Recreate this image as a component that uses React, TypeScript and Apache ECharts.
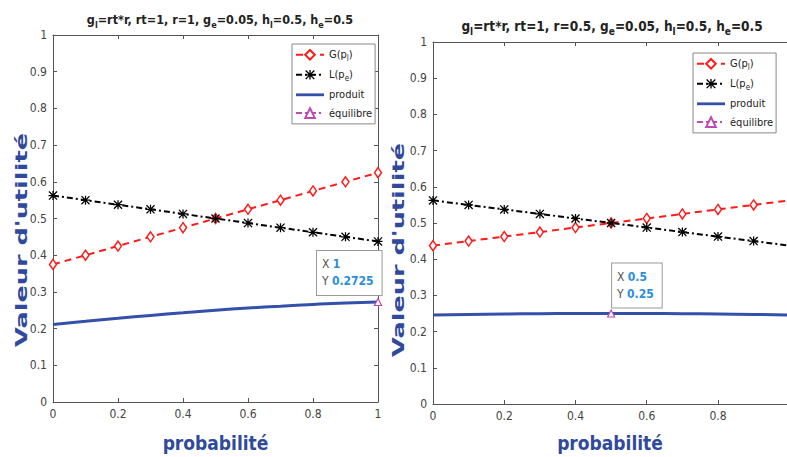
import React, { useEffect, useRef } from "react";
import * as echarts from "echarts";

// ---------- data ----------
const X = [0, 0.1, 0.2, 0.3, 0.4, 0.5, 0.6, 0.7, 0.8, 0.9, 1];
const G_LEFT = [0.375, 0.4, 0.425, 0.45, 0.475, 0.5, 0.525, 0.55, 0.575, 0.6, 0.625];
const L_LEFT = [0.5625, 0.55, 0.5375, 0.525, 0.5125, 0.5, 0.4875, 0.475, 0.4625, 0.45, 0.4375];
const PROD_LEFT = [0.211, 0.22, 0.228, 0.236, 0.243, 0.25, 0.256, 0.261, 0.266, 0.27, 0.2725];
const EQ_LEFT: [number, number] = [1, 0.2725];

const G_RIGHT = [0.4375, 0.45, 0.4625, 0.475, 0.4875, 0.5, 0.5125, 0.525, 0.5375, 0.55, 0.5625];
const L_RIGHT = [0.5625, 0.55, 0.5375, 0.525, 0.5125, 0.5, 0.4875, 0.475, 0.4625, 0.45, 0.4375];
const PROD_RIGHT = [0.246, 0.2475, 0.2486, 0.2494, 0.2498, 0.25, 0.2498, 0.2494, 0.2486, 0.2475, 0.246];
const EQ_RIGHT: [number, number] = [0.5, 0.25];

// right panel is cropped just before x = 1
const RIGHT_X_MAX = 0.9937;

const TITLE_LEFT = "{b|g}{s|l}{b|=rt*r, rt=1, r=1, g}{s|e}{b|=0.05, h}{s|l}{b|=0.5, h}{s|e}{b|=0.5}";
const TITLE_RIGHT = "{b|g}{s|l}{b|=rt*r, rt=1, r=0.5, g}{s|e}{b|=0.05, h}{s|l}{b|=0.5, h}{s|e}{b|=0.5}";
const NAMES = ["G(pl)", "L(pe)", "produit", "équilibre"];
const Y_NAME = "Valeur d'utilité";
const X_NAME = "probabilité";
const TIP_LEFT = "{k|X} {v|1}\n{k|Y} {v|0.2725}";
const TIP_RIGHT = "{k|X} {v|0.5}\n{k|Y} {v|0.25}";

const FONT = "'DejaVu Sans Condensed', 'DejaVu Sans', sans-serif";
const BLUE_NAME = "#2f4a9c";
const AXIS_COLOR = "#555";

const ASTERISK =
  "path://M4.3 0H5.7V10H4.3Z M0 4.3H10V5.7H0Z M1 0L10 9L9 10L0 1Z M9 0L10 1L1 10L0 9Z";
const FLAT = "path://M0 0H30V3H0Z";

const zip = (xs: number[], ys: number[]) => xs.map((x, i) => [x, ys[i]]);

function mkSeries(xi: number, yi: number, g: number[], l: number[], p: number[], eq: [number, number], tip: string, offset: number[], dist: number) {
  return [
    {
      name: NAMES[0], type: "line", xAxisIndex: xi, yAxisIndex: yi,
      data: zip(X, g), symbol: "diamond", symbolSize: [7, 10],
      lineStyle: { color: "#ff1a1a", width: 2, type: [7, 5] },
      itemStyle: { color: "#fff", borderColor: "#ff1a1a", borderWidth: 1.5 },
      z: 3,
    },
    {
      name: NAMES[1], type: "line", xAxisIndex: xi, yAxisIndex: yi,
      data: zip(X, l), symbol: ASTERISK, symbolSize: 9,
      lineStyle: { color: "#000", width: 2, type: [6, 3, 2, 3] },
      itemStyle: { color: "#000" },
      z: 3,
    },
    {
      name: NAMES[2], type: "line", xAxisIndex: xi, yAxisIndex: yi,
      data: zip(X, p), symbol: "none", smooth: true,
      lineStyle: { color: "#3550aa", width: 3 },
      itemStyle: { color: "#3550aa" },
      z: 2,
    },
    {
      name: NAMES[3], type: "line", xAxisIndex: xi, yAxisIndex: yi,
      data: [eq], symbol: "triangle", symbolSize: 7,
      lineStyle: { color: "#c04ab4", width: 2, type: [6, 3, 2, 3] },
      itemStyle: { color: "#fff", borderColor: "#c04ab4", borderWidth: 1.2 },
      z: 4,
      label: {
        show: true,
        position: "top",
        offset,
        distance: dist,
        align: "left",
        formatter: tip,
        backgroundColor: "#fff",
        borderColor: "#999",
        borderWidth: 1,
        padding: [5, 8, 5, 5],
        rich: {
          k: { color: "#555", fontSize: 12, fontFamily: FONT, lineHeight: 17 },
          v: { color: "#2a8ee0", fontSize: 12, fontWeight: "bold", fontFamily: FONT, lineHeight: 17 },
        },
      },
    },
  ];
}

function mkX(gi: number, pos: string, labels: boolean, max: number, name?: string, nameGap?: number) {
  return {
    type: "value", gridIndex: gi, position: pos, min: 0, max, interval: 0.2,
    name, nameLocation: "middle", nameGap,
    nameTextStyle: { color: BLUE_NAME, fontSize: 19, fontWeight: "bold", fontFamily: FONT },
    axisLine: { show: true, onZero: false, lineStyle: { color: AXIS_COLOR, width: 1 } },
    axisTick: { show: true, inside: true, length: 4, lineStyle: { color: AXIS_COLOR } },
    axisLabel: { show: labels, color: "#444", fontSize: 12, fontFamily: FONT, margin: 6, showMaxLabel: max === 1 },
    splitLine: { show: false },
  };
}
function mkY(gi: number, pos: string, labels: boolean) {
  return {
    type: "value", gridIndex: gi, position: pos, min: 0, max: 1, interval: 0.1,
    axisLine: { show: true, onZero: false, lineStyle: { color: AXIS_COLOR, width: 1 } },
    axisTick: { show: true, inside: true, length: 4, lineStyle: { color: AXIS_COLOR } },
    axisLabel: { show: labels, color: "#444", fontSize: 12, fontFamily: FONT, margin: 6 },
    splitLine: { show: false },
  };
}

const legendRich = {
  t: { fontSize: 11, color: "#222", fontFamily: FONT },
  s: { fontSize: 8, color: "#222", fontFamily: FONT, padding: [7, 0, 0, 0] },
};
const legendFmt = (n: string) => {
  if (n === "G(pl)") return "{t|G(p}{s|l}{t|)}";
  if (n === "L(pe)") return "{t|L(p}{s|e}{t|)}";
  return "{t|" + n + "}";
};
function mkLegend(left: number, top: number) {
  return {
    data: NAMES.map((n) => (n === "produit" ? { name: n, icon: FLAT } : { name: n })),
    orient: "vertical", left, top,
    backgroundColor: "#fff", borderColor: "#888", borderWidth: 1,
    padding: [5, 3, 5, 3], itemGap: 7, itemWidth: 28, itemHeight: 12,
    symbolKeepAspect: true,
    formatter: legendFmt,
    textStyle: { rich: legendRich, fontSize: 11, fontFamily: FONT },
  };
}

function titleRich(size: number) {
  return {
    b: { fontSize: size, fontWeight: "bold", color: "#222", fontFamily: FONT },
    s: { fontSize: size - 3.5, fontWeight: "bold", color: "#222", fontFamily: FONT, padding: [10, 0, 0, 0] },
  };
}

function yName(x: number, y: number) {
  return {
    type: "text", x, y, rotation: Math.PI / 2, scaleX: 1.6, scaleY: 1,
    style: { text: Y_NAME, fill: BLUE_NAME, font: "bold 16px 'DejaVu Sans', sans-serif", align: "center", verticalAlign: "middle" },
  };
}

export default function App() {
  const ref = useRef<HTMLDivElement>(null);
  useEffect(() => {
    if (!ref.current) return;
    const chart = echarts.init(ref.current, null, { renderer: "svg" });
    chart.setOption({
      animation: false,
      backgroundColor: "#fff",
      title: [
        { text: TITLE_LEFT, left: 215, top: 5, textAlign: "center", textStyle: { rich: titleRich(12.5) } },
        { text: TITLE_RIGHT, left: 607, top: 11, textAlign: "center", textStyle: { rich: titleRich(13.5) } },
      ],
      legend: [mkLegend(292, 44), mkLegend(693, 53)],
      grid: [
        { left: 53, right: 409, top: 35, bottom: 55, containLabel: false },
        { left: 433, right: 0, top: 42, bottom: 52, containLabel: false },
      ],
      xAxis: [
        mkX(0, "bottom", true, 1, X_NAME, 31),
        mkX(0, "top", false, 1),
        mkX(1, "bottom", true, RIGHT_X_MAX, X_NAME, 29),
        mkX(1, "top", false, RIGHT_X_MAX),
      ],
      yAxis: [mkY(0, "left", true), mkY(0, "right", false), mkY(1, "left", true)],
      graphic: [yName(21, 240), yName(398, 250)],
      series: [
        ...mkSeries(0, 0, G_LEFT, L_LEFT, PROD_LEFT, EQ_LEFT, TIP_LEFT, [-61, 0], 3),
        ...mkSeries(2, 2, G_RIGHT, L_RIGHT, PROD_RIGHT, EQ_RIGHT, TIP_RIGHT, [1, 0], 2),
      ],
    });
    return () => chart.dispose();
  }, []);
  return <div ref={ref} style={{ position: "fixed", left: 0, top: 0, width: 787, height: 457 }} />;
}
